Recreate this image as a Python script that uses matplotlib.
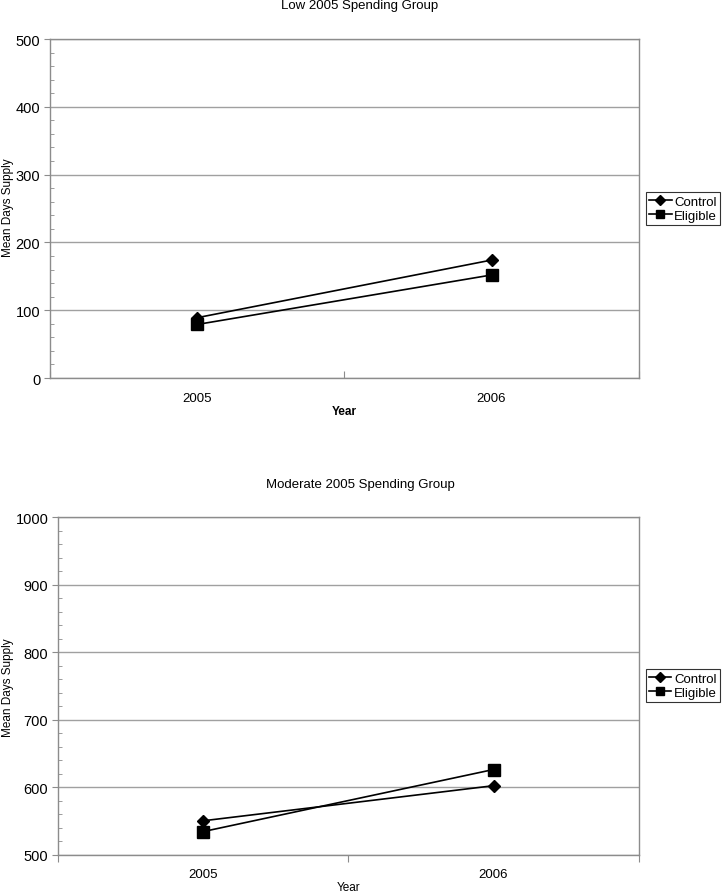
import numpy as np
import matplotlib
matplotlib.use('Agg')
import matplotlib.pyplot as plt
from matplotlib.ticker import MultipleLocator, FixedLocator, NullFormatter

plt.rcParams['font.family'] = ['Liberation Sans', 'DejaVu Sans']

years = ['2005', '2006']
low_control = [89, 174]
low_eligible = [79, 152]
mod_control = [550, 602]
mod_eligible = [534, 626]

panels = [
    ('Low 2005 Spending Group', low_control, low_eligible, (0, 500), 100, 'bold'),
    ('Moderate 2005 Spending Group', mod_control, mod_eligible, (500, 1000), 100, 'normal'),
]
# axes rects in figure fractions: left, bottom, width, height
rects = [[0.069, 0.5765, 0.812, 0.3788], [0.080, 0.0441, 0.801, 0.377]]
# pixel rows (from top) for title / xlabel / ylabel centre
text_rows = [(6, 412, 208), (485, 888, 688)]

W, H = 725, 895
fig = plt.figure(figsize=(W / 100, H / 100), dpi=100)
grey = '#8c8c8c'

for (title, ctrl, elig, ylim, step, xweight), rect, rows in zip(panels, rects, text_rows):
    ax = fig.add_axes(rect)
    x = np.arange(len(years)) + 0.5
    ax.plot(x, ctrl, color='black', lw=1.2, marker='D', ms=6.5, label='Control')
    ax.plot(x, elig, color='black', lw=1.2, marker='s', ms=8.5, label='Eligible')

    ax.set_xlim(0, len(years))
    ax.set_ylim(*ylim)
    ax.yaxis.set_major_locator(MultipleLocator(step))
    ax.yaxis.set_minor_locator(MultipleLocator(step / 5))
    ax.grid(axis='y', which='major', color='#a0a0a0', lw=1)
    ax.set_axisbelow(True)

    ax.xaxis.set_major_locator(FixedLocator(np.arange(len(years) + 1)))
    ax.xaxis.set_major_formatter(NullFormatter())
    ax.xaxis.set_minor_locator(FixedLocator(x))
    ax.set_xticklabels(years, minor=True)
    ax.tick_params(axis='x', which='minor', length=0, pad=10, labelsize=9.5)
    ax.tick_params(axis='x', which='major', length=5, color=grey,
                   direction='in' if xweight == 'bold' else 'out')
    ax.tick_params(axis='y', which='major', length=4, color=grey, labelsize=10.5, pad=3)
    ax.tick_params(axis='y', which='minor', length=3, color=grey, direction='in')

    for s in ax.spines.values():
        s.set_color(grey)
        s.set_linewidth(1)

    t_row, x_row, y_row = rows
    fig.text(360 / W, 1 - t_row / H, title, fontsize=9.5, ha='center', va='center')
    fig.text(rect[0] + rect[2] / 2, 1 - x_row / H, 'Year', fontsize=8.5,
             fontweight=xweight, ha='center', va='center')
    fig.text(8 / W, 1 - y_row / H, 'Mean Days Supply', fontsize=8.5,
             rotation=90, ha='center', va='center')

    leg = ax.legend(loc='center left', bbox_to_anchor=(1.012, 0.5), fontsize=9.5,
                    frameon=True, fancybox=False, edgecolor='black',
                    handlelength=1.7, handletextpad=0.2, borderpad=0.25,
                    labelspacing=0.15, borderaxespad=0, markerscale=0.75)
    leg.get_frame().set_linewidth(0.8)

fig.savefig('out.png', dpi=100)
